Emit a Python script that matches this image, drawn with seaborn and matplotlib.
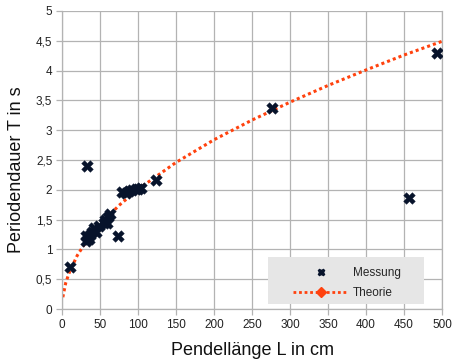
import pandas as pd
import matplotlib.pyplot as plt
import matplotlib.ticker as mticker
from matplotlib.lines import Line2D
from matplotlib.patches import Rectangle
import seaborn as sns

# Messwerte (Pendellänge in cm, Periodendauer in s)
laenge = [11, 31, 32, 33, 35, 37, 40, 42, 45, 48, 55, 57, 59, 61, 63,
          73, 79, 84, 88, 92, 97, 100, 104, 124, 276, 457, 493]
periode = [0.70, 1.22, 1.15, 2.40, 1.18, 1.25, 1.30, 1.36, 1.30, 1.40, 1.45, 1.50, 1.45, 1.55, 1.60,
           1.23, 1.97, 1.95, 1.98, 2.00, 2.02, 2.02, 2.03, 2.17, 3.38, 1.86, 4.30]

# Theoriekurve
theo_laenge = [1, 5, 10, 20, 30, 50, 75, 100, 150, 200, 250, 300, 350, 400, 450, 500]
theo_periode = [0.20, 0.45, 0.63, 0.90, 1.10, 1.42, 1.74, 2.01, 2.46, 2.84, 3.17, 3.47, 3.75, 4.01, 4.26, 4.49]

messung = pd.DataFrame({"L": laenge, "T": periode})
theorie = pd.DataFrame({"L": theo_laenge, "T": theo_periode})

sns.set_theme(style="whitegrid")
plt.rcParams["font.family"] = ["Liberation Sans", "DejaVu Sans"]

fig = plt.figure(figsize=(4.53, 3.62), dpi=100)
ax = fig.add_axes([0.137, 0.146, 0.839, 0.824])

linie = "#ff420e"
punkt = "#07132b"

sns.lineplot(data=theorie, x="L", y="T", ax=ax, color=linie, linestyle=(0, (1, 1)),
             linewidth=2.2, zorder=2)
sns.scatterplot(data=messung, x="L", y="T", ax=ax, marker="X", s=70, color=punkt,
                edgecolor=punkt, linewidth=0.3, zorder=3)

ax.set_xlim(0, 500)
ax.set_ylim(0, 5)
ax.xaxis.set_major_locator(mticker.MultipleLocator(50))
ax.yaxis.set_major_locator(mticker.MultipleLocator(0.5))
komma = mticker.FuncFormatter(lambda v, p: f"{v:g}".replace(".", ","))
ax.xaxis.set_major_formatter(komma)
ax.yaxis.set_major_formatter(komma)

ax.grid(True, color="#b3b3b3", linewidth=0.9)
for s in ax.spines.values():
    s.set_color("#b3b3b3")
    s.set_linewidth(0.9)
ax.spines["top"].set_visible(False)
ax.tick_params(axis="both", length=4, width=0.9, color="#b3b3b3", labelsize=8.5,
               labelcolor="#222222", pad=3, direction="out", bottom=True, left=True)

ax.set_xlabel("Pendellänge L in cm", fontsize=13, color="#111111", labelpad=8)
ax.set_ylabel("Periodendauer T in s", fontsize=13, color="#111111")
ax.yaxis.set_label_coords(-0.098, 0.466)

# Legendenhintergrund
ax.add_patch(Rectangle((0.542, 0.017), 0.411, 0.157, transform=ax.transAxes,
                       facecolor="#e6e6e6", edgecolor="none", zorder=4))

handles = [
    Line2D([], [], color=punkt, marker="X", linestyle="none", markersize=5),
    Line2D([], [], color=linie, marker="D", markersize=5, linestyle=(0, (1, 1)), linewidth=2),
]
leg = ax.legend(handles, ["Messung", "Theorie"], loc="center left",
                bbox_to_anchor=(0.592, 0.088), frameon=False, fontsize=8.5,
                handlelength=4.7, borderpad=0, labelspacing=0.7, handletextpad=0.4)
leg.set_zorder(5)

fig.savefig("out.png", dpi=100)
